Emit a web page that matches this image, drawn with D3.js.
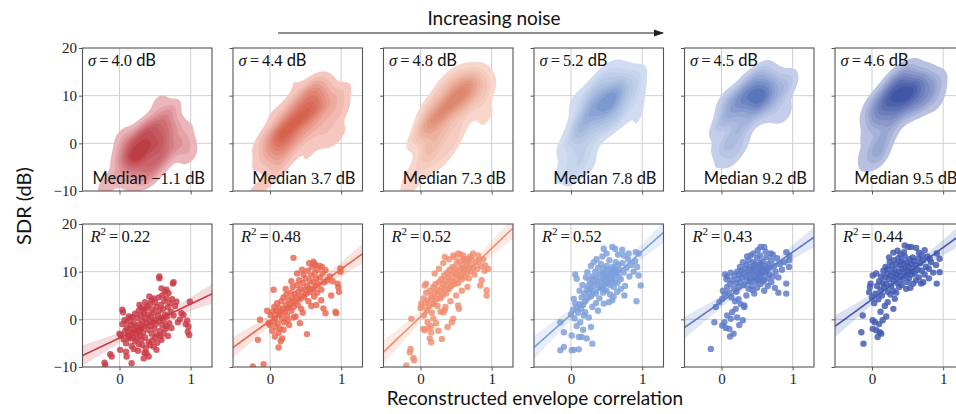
<!DOCTYPE html>
<html>
<head>
<meta charset="utf-8">
<script src="https://cdn.jsdelivr.net/npm/d3@7"></script>
<style>
  body { margin: 0; background: #fff; overflow: hidden; }
  svg { display: block; }
</style>
</head>
<body>
<svg id="chart" width="956" height="414"></svg>
<script>
// ---- data -----------------------------------------------------------------
const noiseSigma = [4.0, 4.4, 4.8, 5.2, 4.5, 4.6];          // dB, per condition
const medianSDR  = [-1.1, 3.7, 7.3, 7.8, 9.2, 9.5];          // dB
const rSquared   = [0.22, 0.48, 0.52, 0.52, 0.43, 0.44];
const seriesColors = ["#c93a45", "#e8664f", "#f08e70", "#7c9fdb", "#5b79c7", "#3f58b1"];
const xTicks = [0, 1];
const yTicks = [-10, 0, 10, 20];
const yGrid  = [0, 10];

// [envelope correlation, SDR dB] per trial
const pts1 = [[-0.21,-9.1],[-0.2,-9.6],[-0.13,-7.3],[-0.11,-7.8],[0.01,-6.4],[0.09,-6.8],[0.1,-7.8],[0.17,-9.2],[0.04,2.0],[0.05,1.5],[0.0,-3.0],[0.02,-3.4],[0.56,9.0],[0.56,8.6],[0.75,7.5],[0.76,7.8],[0.66,6.2],[0.64,5.8],[0.59,6.5],[0.69,5.5],[0.8,3.7],[0.87,1.3],[0.9,0.9],[0.95,-0.3],[0.97,-1.5],[0.96,-2.6],[0.98,-3.3],[0.99,3.7],[0.93,-1.0],[0.38,-7.1],[0.41,-7.8],[0.34,-8.2],[0.48,-5.7],[0.52,-6.4],[0.57,-3.6],[0.59,-4.3],[0.45,4.0],[0.48,4.4],[0.34,2.0],[0.38,2.3],[0.13,0.6],[0.15,0.2],
  [0.08,-2.5],[0.1,-1.8],[0.12,-3.2],[0.14,-2.0],[0.15,-4.0],[0.16,-1.2],[0.18,-2.8],[0.19,-3.6],[0.2,-0.8],[0.21,-2.2],[0.22,-4.6],[0.23,-1.5],[0.24,-3.0],[0.25,0.3],[0.26,-2.5],[0.27,-5.2],[0.28,-1.0],[0.29,-3.4],[0.3,0.8],[0.3,-2.0],[0.31,-4.2],[0.32,-0.4],[0.33,-2.8],[0.34,1.2],[0.35,-1.5],[0.36,-3.8],[0.36,0.2],[0.37,-6.0],[0.38,-0.8],[0.39,2.8],[0.4,-2.2],[0.4,1.0],[0.41,-4.8],[0.42,-0.2],[0.43,3.2],[0.44,-1.4],[0.44,0.6],[0.45,-3.0],[0.46,2.0],[0.47,-0.6],[0.48,1.4],[0.49,-2.0],[0.5,3.6],[0.5,0.0],[0.51,-1.0],[0.52,2.6],[0.53,-3.2],[0.54,0.8],[0.55,4.6],[0.55,-0.4],[0.56,1.8],[0.57,-2.4],[0.58,3.0],[0.59,0.3],[0.6,5.0],[0.6,-1.2],[0.61,2.2],[0.62,-0.2],[0.63,3.8],[0.64,1.0],[0.65,-2.0],[0.66,4.4],[0.67,0.6],[0.68,2.6],[0.7,-0.8],[0.71,3.4],[0.72,1.6],[0.74,4.2],[0.76,0.8],[0.78,2.8],[0.06,-4.2],[0.09,-5.0],[0.11,-0.5],[0.13,-3.8],[0.17,-5.6],[0.2,-6.2],[0.24,-4.0],[0.26,-6.6],[0.29,-1.8],[0.32,-5.4],[0.35,-7.0],[0.43,-5.4],[0.46,-4.4],[0.5,-3.8],[0.53,-4.9],[0.62,-3.0],[0.66,-1.4],[0.22,1.2],[0.27,1.8],[0.31,2.4],[0.18,0.5],[0.04,-1.0],[0.07,-0.2],[0.28,3.0],[0.42,4.8],[0.36,3.6],[0.68,-3.5],[0.73,-1.8],[0.82,-0.6],[0.85,0.0]];

const pts2 = [[-0.24,-9.9],[-0.09,-9.4],[-0.17,-4.3],[-0.14,-0.1],[0.05,6.2],[0.12,-5.9],[0.17,-4.0],[0.52,-3.1],[0.33,12.9],[0.61,12.1],[0.64,11.4],[0.73,11.0],[0.78,10.3],[0.99,10.7],[0.99,10.0],[0.95,7.5],[0.96,6.8],[0.97,5.8],[0.92,1.6],[0.93,1.3],[0.75,2.3],[0.78,1.3],[0.42,-0.8],
  [0.0,-1.2],[0.01,0.9],[0.03,-2.4],[0.04,1.6],[0.05,-0.4],[0.06,2.6],[0.07,0.3],[0.08,-1.6],[0.09,1.8],[0.1,3.4],[0.11,-0.8],[0.12,0.9],[0.13,2.4],[0.14,-1.9],[0.15,1.3],[0.16,3.8],[0.17,0.2],[0.18,2.2],[0.19,4.6],[0.2,-0.6],[0.21,1.6],[0.22,3.0],[0.23,5.2],[0.24,0.8],[0.25,2.4],[0.26,4.0],[0.27,-1.2],[0.28,3.2],[0.29,5.6],[0.3,1.8],[0.31,4.4],[0.32,6.8],[0.33,2.6],[0.34,3.8],[0.35,5.4],[0.36,0.6],[0.37,4.6],[0.38,7.2],[0.39,3.0],[0.4,5.8],[0.41,8.2],[0.42,4.2],[0.43,6.4],[0.44,2.2],[0.45,5.0],[0.46,7.6],[0.47,9.4],[0.48,4.6],[0.49,6.2],[0.5,8.6],[0.51,5.4],[0.52,7.0],[0.53,10.2],[0.54,3.8],[0.55,6.6],[0.56,8.0],[0.57,5.8],[0.58,9.2],[0.59,11.0],[0.6,6.4],[0.61,7.8],[0.62,4.8],[0.63,9.8],[0.64,7.0],[0.65,8.6],[0.66,5.6],[0.67,10.4],[0.68,7.4],[0.7,8.8],[0.72,6.2],[0.74,9.6],[0.76,7.8],[0.8,8.2],[0.84,9.0],[0.88,8.0],[0.07,-3.6],[0.12,-2.8],[0.19,-2.2],[0.25,-0.2],[0.33,0.4],[0.46,1.4],[0.58,2.8],[0.22,6.4],[0.3,8.0],[0.38,9.6],[0.45,10.4],[0.55,11.8],[0.62,11.6],[0.7,11.2],[-0.04,1.8],[-0.02,-0.8],[0.15,-4.6],[0.65,3.0],[0.72,4.0],[0.86,5.0]];

const pts3 = [[-0.2,-9.7],[-0.14,-6.2],[-0.15,-6.9],[-0.1,-8.1],[-0.09,-8.6],[-0.13,0.1],[0.01,3.3],[0.0,2.4],[0.06,7.1],[0.08,7.5],[0.04,-2.0],[0.06,-2.3],[0.11,-1.8],[0.15,-1.4],[0.15,-2.7],[0.13,-4.0],[0.15,-4.8],[0.3,-4.1],[0.32,1.5],[0.34,1.9],[0.46,0.1],[0.44,-0.6],[0.53,2.9],[0.54,2.2],[0.34,13.1],[0.46,13.4],[0.53,13.8],[0.6,13.4],[0.62,12.4],[0.67,12.7],[0.74,13.8],[0.81,13.4],[0.91,11.3],[0.95,10.6],[0.93,6.1],[0.93,5.0],[0.86,8.2],[0.84,7.1],
  [0.02,2.6],[0.04,4.4],[0.05,0.8],[0.07,3.4],[0.08,5.6],[0.09,1.8],[0.1,4.0],[0.12,2.8],[0.13,6.0],[0.14,3.8],[0.15,5.0],[0.16,1.4],[0.17,4.6],[0.18,6.8],[0.19,3.2],[0.2,5.6],[0.21,7.4],[0.22,4.2],[0.23,6.2],[0.24,2.8],[0.25,5.2],[0.26,7.8],[0.27,6.0],[0.28,4.4],[0.29,8.4],[0.3,6.6],[0.31,5.0],[0.32,7.4],[0.33,9.2],[0.34,6.2],[0.35,8.0],[0.36,5.4],[0.37,9.8],[0.38,7.2],[0.39,8.8],[0.4,6.4],[0.41,10.4],[0.42,8.2],[0.43,7.0],[0.44,9.4],[0.45,11.0],[0.46,8.0],[0.47,9.8],[0.48,7.4],[0.49,10.6],[0.5,8.8],[0.51,11.8],[0.52,9.4],[0.53,7.6],[0.54,10.2],[0.55,12.2],[0.56,9.0],[0.57,10.8],[0.58,8.4],[0.59,11.4],[0.6,9.8],[0.61,12.6],[0.62,10.4],[0.63,8.8],[0.64,11.2],[0.65,9.6],[0.66,12.2],[0.67,10.6],[0.68,8.6],[0.7,11.6],[0.71,10.0],[0.72,12.8],[0.74,10.8],[0.76,9.4],[0.78,12.0],[0.8,10.6],[0.82,12.4],[0.85,11.2],[0.88,12.6],[0.9,10.2],[0.18,0.2],[0.22,-0.8],[0.28,1.6],[0.35,2.6],[0.42,3.8],[0.5,5.0],[0.58,6.0],[0.66,6.8],[0.2,9.6],[0.26,10.6],[0.32,11.8],[0.4,12.6],[0.48,13.0],[0.56,13.6],[0.7,13.2],[0.1,-0.6],[0.25,-2.4],[0.38,-1.6]];

const pts4 = [[-0.15,-6.5],[-0.1,-5.8],[0.01,-6.5],[0.04,-6.4],[0.11,-6.3],[-0.1,-2.7],[-0.15,-0.6],[0.01,-3.4],[0.11,-3.7],[0.15,-3.7],[0.3,-5.1],[0.06,9.4],[0.08,8.5],[0.23,9.9],[0.32,12.0],[0.46,14.8],[0.58,15.2],[0.62,14.8],[0.74,13.4],[0.81,13.8],[0.91,14.1],[0.95,13.8],[0.95,9.2],[0.98,7.1],[0.92,3.8],[0.58,4.0],[0.53,3.6],[0.46,3.3],[0.04,4.3],[0.06,3.3],[0.2,1.5],[0.18,0.8],[0.13,-0.6],
  [0.0,1.0],[0.03,2.0],[0.05,0.2],[0.08,2.6],[0.1,1.4],[0.12,3.2],[0.14,2.2],[0.15,4.6],[0.17,3.0],[0.19,5.4],[0.2,3.8],[0.22,6.2],[0.23,4.4],[0.24,7.0],[0.25,5.6],[0.26,8.2],[0.27,6.4],[0.28,4.8],[0.29,7.6],[0.3,9.0],[0.31,6.0],[0.32,8.4],[0.33,7.2],[0.34,10.0],[0.35,5.4],[0.36,8.8],[0.37,7.8],[0.38,10.8],[0.39,6.6],[0.4,9.4],[0.41,8.0],[0.42,11.6],[0.43,7.0],[0.44,9.8],[0.45,8.6],[0.46,10.6],[0.47,6.2],[0.48,9.0],[0.49,8.2],[0.5,11.2],[0.51,7.6],[0.52,9.6],[0.53,8.8],[0.54,12.4],[0.55,7.2],[0.56,10.2],[0.57,8.4],[0.58,11.0],[0.59,9.2],[0.6,6.8],[0.61,10.6],[0.62,8.0],[0.63,12.0],[0.64,9.6],[0.65,7.6],[0.66,11.4],[0.67,9.0],[0.68,10.4],[0.7,8.4],[0.72,11.8],[0.74,9.8],[0.76,7.0],[0.78,10.8],[0.8,12.6],[0.82,9.0],[0.85,11.4],[0.88,10.0],[0.9,12.2],[0.93,11.0],[0.3,2.6],[0.35,3.4],[0.4,4.4],[0.45,5.6],[0.5,6.0],[0.55,5.2],[0.6,4.8],[0.65,5.8],[0.7,6.4],[0.75,5.0],[0.38,1.8],[0.25,0.4],[0.28,-1.6],[0.08,-1.4],[0.17,-2.2],[0.22,-4.0],[0.36,12.6],[0.44,13.2],[0.5,13.8],[0.66,13.6],[0.72,14.6],[0.28,11.2],[0.21,8.8],[0.16,7.2],[0.12,6.0],[0.42,6.6],[0.48,7.4],[0.52,10.4],[0.56,8.6],[0.58,7.8],[0.46,9.4],[0.54,9.0],[0.6,9.8],[0.62,10.2]];

const pts5 = [[-0.15,-6.2],[-0.1,-0.6],[-0.08,2.6],[-0.03,3.6],[0.01,4.3],[0.01,-1.3],[0.04,-0.6],[0.06,-1.8],[0.11,-2.0],[0.08,0.8],[0.13,0.1],[0.15,1.5],[0.3,-0.2],[0.32,2.9],[0.32,2.6],[0.05,9.4],[0.08,9.0],[0.07,8.4],[0.13,9.8],[0.41,13.4],[0.51,14.5],[0.55,15.2],[0.6,15.2],[0.69,13.8],[0.91,14.1],[0.95,13.4],[0.95,12.4],[0.95,11.0],[0.91,7.5],[0.91,5.4],[0.46,5.4],[0.44,6.1],
  [0.02,6.0],[0.05,5.2],[0.08,6.8],[0.1,5.6],[0.12,7.4],[0.14,4.6],[0.15,8.2],[0.17,6.4],[0.18,9.2],[0.19,3.8],[0.2,7.6],[0.21,5.8],[0.22,10.0],[0.23,8.4],[0.24,6.8],[0.25,9.4],[0.26,11.0],[0.27,7.8],[0.28,10.2],[0.29,8.8],[0.3,12.0],[0.31,9.6],[0.32,7.2],[0.33,10.6],[0.34,9.0],[0.35,11.4],[0.36,8.2],[0.37,10.0],[0.38,12.4],[0.39,9.4],[0.4,11.0],[0.41,8.6],[0.42,10.4],[0.43,9.8],[0.44,12.0],[0.45,10.8],[0.46,9.0],[0.47,11.6],[0.48,10.2],[0.49,8.4],[0.5,12.8],[0.51,9.6],[0.52,11.0],[0.53,10.0],[0.54,8.8],[0.55,11.8],[0.56,10.4],[0.57,9.2],[0.58,12.2],[0.59,10.6],[0.6,8.2],[0.61,11.2],[0.62,9.8],[0.63,13.0],[0.64,10.2],[0.65,8.6],[0.66,11.6],[0.67,9.4],[0.68,10.8],[0.7,12.4],[0.72,9.0],[0.74,11.2],[0.76,10.0],[0.78,12.8],[0.8,8.8],[0.82,11.6],[0.85,10.4],[0.88,12.0],[0.2,2.2],[0.24,4.2],[0.27,3.2],[0.35,5.0],[0.38,6.4],[0.42,7.0],[0.5,6.6],[0.55,7.4],[0.6,6.0],[0.65,7.0],[0.7,7.8],[0.75,6.6],[0.8,5.6],[0.22,0.4],[0.25,-1.2],[0.17,-3.0],[0.12,-3.6],[0.36,13.2],[0.45,13.8],[0.54,13.4],[0.62,14.2],[0.72,13.6],[0.4,8.0],[0.48,7.8],[0.52,8.2],[0.58,8.0],[0.46,11.0],[0.53,11.4],[0.56,9.8],[0.6,10.0]];

const pts6 = [[-0.12,-5.1],[-0.15,-2.7],[0.01,-0.2],[0.04,-0.6],[0.01,-2.0],[0.06,-2.3],[0.11,-2.7],[0.08,-3.7],[0.13,-3.0],[-0.13,0.8],[0.15,-0.2],[0.3,2.2],[-0.02,7.5],[-0.03,6.8],[-0.04,5.7],[0.01,9.2],[0.06,9.6],[0.46,15.5],[0.51,15.2],[0.55,15.2],[0.62,15.0],[0.45,14.1],[0.74,14.5],[0.81,12.7],[0.91,13.8],[0.95,12.7],[0.95,9.9],[0.91,7.5],[0.69,7.5],[0.58,7.5],[0.48,6.4],[0.32,4.3],
  [0.0,4.6],[0.03,3.4],[0.05,5.4],[0.07,7.0],[0.09,4.2],[0.1,8.0],[0.12,6.2],[0.13,9.0],[0.14,5.0],[0.15,7.6],[0.16,10.2],[0.17,6.8],[0.18,8.8],[0.19,11.0],[0.2,7.4],[0.21,9.6],[0.22,5.8],[0.23,10.6],[0.24,8.4],[0.25,12.0],[0.26,9.2],[0.27,7.0],[0.28,11.2],[0.29,9.8],[0.3,8.2],[0.31,12.4],[0.32,10.4],[0.33,8.8],[0.34,11.6],[0.35,9.4],[0.36,7.6],[0.37,12.8],[0.38,10.0],[0.39,11.4],[0.4,9.0],[0.41,12.2],[0.42,10.6],[0.43,8.4],[0.44,11.8],[0.45,9.8],[0.46,13.2],[0.47,10.8],[0.48,9.2],[0.49,12.0],[0.5,10.2],[0.51,11.2],[0.52,8.6],[0.53,12.6],[0.54,10.0],[0.55,11.6],[0.56,9.4],[0.57,13.0],[0.58,10.8],[0.59,12.2],[0.6,9.6],[0.62,11.4],[0.64,10.4],[0.65,12.8],[0.66,8.8],[0.68,11.8],[0.7,10.2],[0.72,12.4],[0.74,9.4],[0.76,11.0],[0.78,13.2],[0.8,10.6],[0.83,12.0],[0.86,9.8],[0.9,11.4],[0.18,2.8],[0.22,3.6],[0.26,5.2],[0.3,6.0],[0.34,5.6],[0.38,6.8],[0.42,7.2],[0.5,7.8],[0.54,6.6],[0.62,8.2],[0.72,7.8],[0.8,8.6],[0.12,1.6],[0.2,0.6],[0.1,-1.0],[0.24,13.0],[0.3,14.0],[0.36,14.4],[0.4,13.6],[0.66,14.0],[0.7,13.4]];

const trials = [pts1, pts2, pts3, pts4, pts5, pts6];

// ---- layout ---------------------------------------------------------------
const svg = d3.select("#chart");
const panelW = 129.5, panelH = 143;
const colLeft = i => 82.5 + i * 150.5;
const rowTop = [48, 224];

const SERIF = "'Liberation Serif', 'DejaVu Serif', serif";
const SANS = "Lato, 'Open Sans', 'DejaVu Sans', sans-serif";

const x = d3.scaleLinear().domain([-0.52, 1.3]).range([0, panelW]);
const y = d3.scaleLinear().domain([-10, 20]).range([panelH, 0]);

const defs = svg.append("defs");
defs.append("clipPath").attr("id", "panel-clip")
  .append("rect").attr("width", panelW).attr("height", panelH);
defs.append("marker").attr("id", "arrowhead")
  .attr("viewBox", "0 0 10 10").attr("refX", 9).attr("refY", 5)
  .attr("markerWidth", 10).attr("markerHeight", 10).attr("markerUnits", "userSpaceOnUse")
  .attr("orient", "auto")
  .append("path").attr("d", "M0,1.5 L10,5 L0,8.5 Z").attr("fill", "#222");

// ---- helpers --------------------------------------------------------------
// Gaussian KDE with Scott's bandwidth and full covariance; fills iso-proportion levels
function densityBands(points, bwAdjust) {
  const n = points.length;
  const mx = d3.mean(points, d => d[0]), my = d3.mean(points, d => d[1]);
  let sxx = 0, syy = 0, sxy = 0;
  for (const [a, b] of points) { sxx += (a - mx) ** 2; syy += (b - my) ** 2; sxy += (a - mx) * (b - my); }
  sxx /= n - 1; syy /= n - 1; sxy /= n - 1;
  const f2 = Math.pow(n, -1 / 3) * bwAdjust * bwAdjust;
  const kxx = sxx * f2, kyy = syy * f2, kxy = sxy * f2;
  const det = kxx * kyy - kxy * kxy;
  const ixx = kyy / det, iyy = kxx / det, ixy = -kxy / det;

  const gx0 = -1.0, gx1 = 1.8, gy0 = -24, gy1 = 32, nx = 170, ny = 170;
  const dx = (gx1 - gx0) / (nx - 1), dy = (gy1 - gy0) / (ny - 1);
  const values = new Float64Array(nx * ny);
  for (let j = 0; j < ny; j++) {
    const yv = gy1 - j * dy;
    for (let i = 0; i < nx; i++) {
      const xv = gx0 + i * dx;
      let s = 0;
      for (const [a, b] of points) {
        const u = xv - a, v = yv - b;
        s += Math.exp(-0.5 * (ixx * u * u + 2 * ixy * u * v + iyy * v * v));
      }
      values[j * nx + i] = s;
    }
  }
  // iso-proportion levels (5% .. 100% of mass outside), as in seaborn's kdeplot
  const sorted = Array.from(values).sort((p, q) => q - p);
  const total = d3.sum(sorted);
  const cum = [];
  let acc = 0;
  for (const v of sorted) { acc += v; cum.push(acc / total); }
  const props = d3.range(10).map(k => 0.05 + k * (0.95 / 9));
  const levels = props.map(p => {
    const idx = Math.min(d3.bisectLeft(cum, 1 - p), sorted.length - 1);
    return sorted[idx];
  });
  const contours = d3.contours().size([nx, ny]).thresholds(levels.slice(0, 9))(values);
  const toPixel = d3.geoTransform({
    point(gx, gy) {
      this.stream.point(x(gx0 + (gx - 0.5) * dx), y(gy1 - (gy - 0.5) * dy));
    }
  });
  return { contours, levels, path: d3.geoPath(toPixel) };
}

function fillRamp(base) {
  const light = d3.interpolateRgb("#ffffff", base)(0.32);
  const deep = d3.rgb(base).darker(0.25);
  return d3.interpolateRgb(light, deep);
}

// ordinary least squares with 95% confidence band of the mean
function linearFit(points) {
  const n = points.length;
  const mx = d3.mean(points, d => d[0]), my = d3.mean(points, d => d[1]);
  let sxx = 0, sxy = 0;
  for (const [a, b] of points) { sxx += (a - mx) ** 2; sxy += (a - mx) * (b - my); }
  const slope = sxy / sxx, icpt = my - slope * mx;
  let sse = 0;
  for (const [a, b] of points) sse += (b - icpt - slope * a) ** 2;
  const s2 = sse / (n - 2);
  const t = 1.977;
  const xs = d3.range(0, 101).map(k => x.domain()[0] + k * (x.domain()[1] - x.domain()[0]) / 100);
  return xs.map(v => {
    const yhat = icpt + slope * v;
    const half = t * Math.sqrt(s2 * (1 / n + (v - mx) ** 2 / sxx));
    return { x: v, y: yhat, lo: yhat - half, hi: yhat + half };
  });
}

function drawGrid(g) {
  g.append("g").selectAll("line").data(xTicks).join("line")
    .attr("x1", d => x(d)).attr("x2", d => x(d)).attr("y1", 0).attr("y2", panelH)
    .attr("stroke", "#cfcfcf").attr("stroke-width", 1);
  g.append("g").selectAll("line").data(yGrid).join("line")
    .attr("y1", d => y(d)).attr("y2", d => y(d)).attr("x1", 0).attr("x2", panelW)
    .attr("stroke", "#cfcfcf").attr("stroke-width", 1);
}

function drawAxes(g, col, row) {
  const ax = d3.axisLeft(y).tickValues(yTicks).tickSize(3.5).tickPadding(2)
    .tickFormat(col === 0 ? (d => (d < 0 ? "\u2212" : "") + Math.abs(d)) : () => "");
  const ay = g.append("g").call(ax);
  const bx = d3.axisBottom(x).tickValues(xTicks).tickSize(3.5).tickPadding(2.5)
    .tickFormat(row === 1 ? d3.format("d") : () => "");
  const ab = g.append("g").attr("transform", `translate(0,${panelH})`).call(bx);
  [ay, ab].forEach(a => {
    a.select(".domain").remove();
    a.selectAll(".tick line").attr("stroke", "#444").attr("stroke-width", 0.9);
    a.selectAll(".tick text").attr("fill", "#222").style("font-family", SERIF).style("font-size", "15px");
  });
  g.append("rect").attr("width", panelW).attr("height", panelH)
    .attr("fill", "none").attr("stroke", "#555").attr("stroke-width", 1.1);
}

// ---- top row: density of SDR vs. correlation -------------------------------
trials.forEach((pts, i) => {
  const g = svg.append("g").attr("transform", `translate(${colLeft(i)},${rowTop[0]})`);
  drawGrid(g);
  const { contours, levels, path } = densityBands(pts, 0.9);
  const ramp = fillRamp(seriesColors[i]);
  const lo = levels[0], hi = levels[levels.length - 1];
  g.append("g").attr("clip-path", "url(#panel-clip)")
    .selectAll("path").data(contours).join("path")
    .attr("d", path)
    .attr("fill", (c, k) => ramp(((levels[k] + levels[k + 1]) / 2 - lo) / (hi - lo)));
  drawAxes(g, i, 0);

  const sig = g.append("text").attr("x", 5.5).attr("y", 17.5).attr("fill", "#111").style("font-size", "16.5px");
  sig.append("tspan").style("font-family", SERIF).style("font-style", "italic").text("\u03c3");
  sig.append("tspan").attr("dx", 3).style("font-family", SERIF).text("=");
  sig.append("tspan").attr("dx", 3).style("font-family", SERIF).text(`${noiseSigma[i].toFixed(1)} `);
  sig.append("tspan").style("font-family", SANS).text("dB");

  const med = g.append("text").attr("x", panelW - 7).attr("y", panelH - 7)
    .attr("text-anchor", "end").attr("fill", "#111").style("font-size", "16.5px");
  med.append("tspan").style("font-family", SANS).text("Median ");
  const mv = medianSDR[i];
  med.append("tspan").style("font-family", SERIF).text(`${mv < 0 ? "\u2212" : ""}${Math.abs(mv).toFixed(1)} `);
  med.append("tspan").style("font-family", SANS).text("dB");
});

// ---- bottom row: scatter with linear fit ------------------------------------
trials.forEach((pts, i) => {
  const g = svg.append("g").attr("transform", `translate(${colLeft(i)},${rowTop[1]})`);
  drawGrid(g);
  const color = seriesColors[i];
  const fit = linearFit(pts);
  const plot = g.append("g").attr("clip-path", "url(#panel-clip)");
  plot.selectAll("circle").data(pts).join("circle")
    .attr("cx", d => x(d[0])).attr("cy", d => y(d[1])).attr("r", 3.2)
    .attr("fill", color).attr("fill-opacity", 0.82);
  plot.append("path").datum(fit)
    .attr("d", d3.area().x(d => x(d.x)).y0(d => y(d.lo)).y1(d => y(d.hi)))
    .attr("fill", color).attr("fill-opacity", 0.18);
  plot.append("path").datum(fit)
    .attr("d", d3.line().x(d => x(d.x)).y(d => y(d.y)))
    .attr("fill", "none").attr("stroke", color).attr("stroke-width", 1.6);
  drawAxes(g, i, 1);

  const r = g.append("text").attr("x", 8).attr("y", 17.5).attr("fill", "#111")
    .style("font-family", SERIF).style("font-size", "16.5px");
  r.append("tspan").style("font-style", "italic").text("R");
  r.append("tspan").attr("dy", -6.5).style("font-size", "11px").text("2");
  r.append("tspan").attr("dy", 6.5).attr("dx", 3).text("=");
  r.append("tspan").attr("dx", 3).text(rSquared[i].toFixed(2));
});

// ---- figure labels ----------------------------------------------------------
svg.append("text").attr("x", 494).attr("y", 25).attr("text-anchor", "middle")
  .attr("fill", "#111").style("font-family", SANS).style("font-size", "19px").text("Increasing noise");
svg.append("line").attr("x1", 278).attr("x2", 663).attr("y1", 33).attr("y2", 33)
  .attr("stroke", "#222").attr("stroke-width", 1.1).attr("marker-end", "url(#arrowhead)");

svg.append("text").attr("transform", "translate(31,206) rotate(-90)").attr("text-anchor", "middle")
  .attr("fill", "#111").style("font-family", SANS).style("font-size", "20px").text("SDR (dB)");
svg.append("text").attr("x", 535).attr("y", 405).attr("text-anchor", "middle")
  .attr("fill", "#111").style("font-family", SANS).style("font-size", "19px").text("Reconstructed envelope correlation");
</script>
</body>
</html>
